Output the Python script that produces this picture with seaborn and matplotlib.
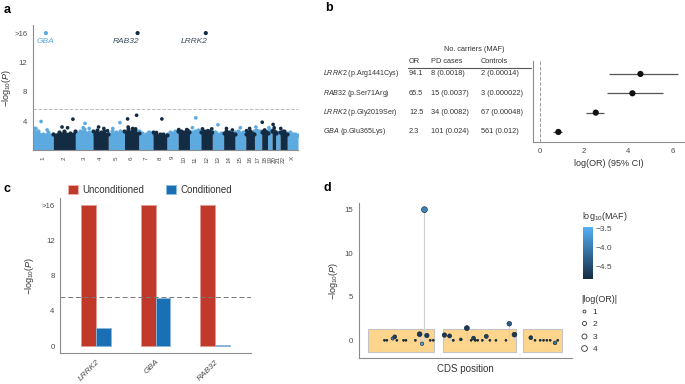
import numpy as np
import pandas as pd
import seaborn as sns
import matplotlib.pyplot as plt
import matplotlib.transforms as mtransforms
from matplotlib.colors import LinearSegmentedColormap, Normalize
from matplotlib.cm import ScalarMappable
from matplotlib.lines import Line2D
from matplotlib.patches import Patch, Rectangle

# ---------------- data ----------------
# a: gene-based Manhattan plot
chrom_labels = [str(i) for i in range(1, 23)] + ['X']
chrom_size = [20.2, 22.2, 17.6, 15.4, 16.2, 14.3, 14.2, 14.0, 11.2, 11.4, 11.4, 11.5,
              11.3, 11.4, 10.7, 8.8, 7.2, 5.9, 4.5, 3.6, 4.4, 7.2, 10.8]
# upper edge of the dense cloud of genes, per chromosome
chrom_envelope = [
    [3.0, 2.6, 2.3, 2.5, 2.2], [2.3, 2.5, 2.6, 2.4, 2.6], [2.5, 2.7, 2.9, 2.5, 2.3],
    [2.6, 2.8, 2.5, 2.6, 2.3], [2.4, 2.6, 2.5, 2.7, 2.4], [2.7, 2.9, 2.6, 2.8, 2.4],
    [2.6, 2.4, 2.3, 2.5, 2.2], [2.5, 2.3, 2.2, 2.3, 2.1], [2.3, 2.5, 2.4, 2.6, 2.5],
    [2.6, 2.7, 2.5, 2.8, 2.5], [2.7, 2.5, 2.6, 2.8, 2.6], [2.5, 2.6, 2.4, 2.7, 2.5],
    [2.3, 2.5, 2.2, 2.4, 2.3], [2.4, 2.6, 2.5, 2.4, 2.3], [2.5, 2.6, 2.4, 2.5, 2.4],
    [2.3, 2.5, 2.6, 2.4, 2.3], [2.6, 2.8, 2.7, 2.6, 2.5], [2.5, 2.7, 2.6, 2.5, 2.4],
    [2.7, 2.6, 2.8, 2.6, 2.5], [2.6, 2.8, 2.7, 2.5, 2.4], [2.4, 2.5, 2.3, 2.4, 2.3],
    [2.5, 2.4, 2.6, 2.3, 2.2], [2.4, 2.5, 2.3, 2.2, 2.1]]
# genes above the cloud: chromosome index, relative position, -log10(P)
top_chrom = [0, 0, 0, 1, 1, 1, 2, 2, 2, 3, 3, 3, 4, 4, 5, 5, 5, 5, 5, 6, 7, 7, 9, 9,
             10, 10, 11, 11, 11, 12, 12, 13, 13, 14, 15, 15, 16, 17, 17, 18, 19, 19, 21, 21]
top_rel = [0.40, 0.15, 0.70, 0.40, 0.65, 0.89, 0.55, 0.45, 0.79, 0.37, 0.71, 0.95, 0.72, 0.28,
           0.22, 0.85, 0.26, 0.57, 0.78, 0.71, 0.64, 0.26, 0.06, 0.76, 0.55, 0.26, 0.14, 0.95,
           0.60, 0.50, 0.30, 0.25, 0.77, 0.50, 0.10, 0.45, 0.20, 0.10, 0.50, 0.30, 0.30, 0.60,
           0.10, 0.40]
top_p = [3.95, 3.0, 2.8, 3.2, 3.1, 4.27, 3.7, 3.1, 3.0, 3.2, 3.0, 2.7, 3.8, 3.0,
         4.3, 4.8, 3.2, 3.0, 2.95, 2.45, 4.3, 2.45, 2.85, 2.85, 4.45, 3.1, 2.95, 2.95,
         2.7, 3.5, 2.45, 3.0, 2.8, 3.1, 2.7, 3.0, 3.2, 3.85, 2.8, 3.1, 3.55, 3.1, 3.0, 2.6]
hit_genes = ['GBA', 'RAB32', 'LRRK2']
hit_chrom = [0, 5, 11]
hit_rel = [0.64, 0.92, 0.43]
hit_p = [16, 16, 16]
threshold = 5.6

# b: variant table and forest plot
variant_gene = ['LRRK2', 'RAB32', 'LRRK2', 'GBA']
variant_protein = ['p.Arg1441Cys', 'p.Ser71Arg', 'p.Gly2019Ser', 'p.Glu365Lys']
or_vals = [94.1, 65.5, 12.5, 2.3]
pd_cases = ['8 (0.0018)', '15 (0.0037)', '34 (0.0082)', '101 (0.024)']
controls = ['2 (0.00014)', '3 (0.000022)', '67 (0.00048)', '561 (0.012)']
ci_lo = [3.12, 3.05, 2.07, 0.60]
ci_hi = [6.23, 5.55, 2.91, 1.01]

# c: conditional analysis
cond_genes = ['LRRK2', 'GBA', 'RAB32']
p_uncond = [16, 16, 16]
p_cond = [2.05, 5.5, 0.1]

# d: RAB32 variants along the CDS
exon_start = [30, 277, 543]
exon_end = [250, 518, 672]
cds_pos = [85, 93, 112, 119, 126, 148, 156, 187, 201, 209, 217, 225, 236, 246,
           283, 300, 312, 337, 357, 371, 379, 385, 393, 408, 421, 433, 453, 486, 497, 514,
           568, 582, 599, 610, 621, 632, 648, 657]
var_p = [0, 0, 0.2, 0.4, 0, 0, 0, 0, 0.7, -0.4, 15.0, 0.55, 0, 0,
         0.6, 0.5, 0, 0.1, 1.4, 0, 0.25, 0, 0, 0, 0.45, 0, 0, 0, 1.9, 0.65,
         0.3, 0, 0, 0, 0, 0, -0.3, 0]
var_maf = [-4.8, -4.8, -3.9, -4.6, -4.8, -4.8, -4.8, -4.8, -4.7, -3.6, -3.95, -4.7, -4.8, -4.8,
           -4.7, -4.7, -4.8, -4.7, -4.7, -4.8, -4.6, -4.8, -4.8, -4.8, -4.6, -4.8, -4.8, -4.8,
           -4.3, -4.7, -4.7, -4.8, -4.8, -4.8, -4.8, -4.8, -4.1, -4.8]
var_or = [0.5, 0.5, 1.2, 1.8, 0.5, 0.5, 0.5, 0.5, 2.8, 1.5, 4.2, 2.3, 0.5, 0.5,
          2.4, 2.0, 0.6, 1.0, 3.0, 0.5, 1.8, 0.6, 0.5, 0.5, 2.0, 0.5, 0.5, 0.5, 2.6, 2.8,
          1.8, 0.5, 0.5, 0.5, 0.5, 0.5, 1.6, 0.5]

# ---------------- style ----------------
sns.set_theme(style='white')
plt.rcParams['font.family'] = ['Liberation Sans', 'DejaVu Sans']
plt.rcParams.update({
    'mathtext.fontset': 'custom', 'mathtext.rm': 'Liberation Sans',
    'mathtext.it': 'Liberation Sans:italic', 'mathtext.bf': 'Liberation Sans:bold',
    'font.size': 5.6, 'axes.edgecolor': '#8c8c8c', 'axes.linewidth': 0.8,
    'xtick.color': '#8c8c8c', 'ytick.color': '#8c8c8c',
    'xtick.labelcolor': '#4a4a4a', 'ytick.labelcolor': '#4a4a4a',
    'xtick.labelsize': 5.6, 'ytick.labelsize': 5.6, 'axes.labelsize': 6.5,
    'axes.labelcolor': '#333333', 'text.color': '#333333',
})
LIGHT, DARK = '#5DAAE1', '#132B43'
W, H = 685, 384
fig = plt.figure(figsize=(W / 100, H / 100), dpi=100)


def box(l, t, r, b):
    return [l / W, 1 - b / H, (r - l) / W, (b - t) / H]


def style_axes(ax):
    sns.despine(ax=ax)
    ax.tick_params(length=2.5, width=0.6, pad=1.5)


ylab = '−log$_{10}$($P$)'

# ---------------- a ----------------
ax_a = fig.add_axes(box(33, 25, 298, 150.5))
starts = np.concatenate([[0], np.cumsum(chrom_size)[:-1]])
for i, (s0, w, env) in enumerate(zip(starts, chrom_size, chrom_envelope)):
    col = LIGHT if i % 2 == 0 else DARK
    xs = s0 + np.linspace(0, 1, len(env)) * w
    ax_a.fill_between(xs, 0, env, color=col, lw=0, zorder=1 + i % 2)
    ax_a.scatter(xs, env, s=9, color=col, lw=0, zorder=1 + i % 2)
top_x = [starts[c] + r * chrom_size[c] for c, r in zip(top_chrom, top_rel)]
top_col = [LIGHT if c % 2 == 0 else DARK for c in top_chrom]
ax_a.scatter(top_x, top_p, s=7, c=top_col, lw=0, zorder=3)
hit_x = [starts[c] + r * chrom_size[c] for c, r in zip(hit_chrom, hit_rel)]
hit_col = [LIGHT if c % 2 == 0 else DARK for c in hit_chrom]
ax_a.scatter(hit_x, hit_p, s=9, c=hit_col, lw=0, zorder=3)
for g, x, y, c in zip(hit_genes, hit_x, hit_p, hit_col):
    tc = LIGHT if c == LIGHT else '#3b4a5e'
    ha = 'center' if g == 'GBA' else 'right'
    ax_a.text(x + (0 if ha == 'center' else 1.5), y - 1.2, g, style='italic', color=tc,
              ha=ha, va='center', fontsize=6)
ax_a.axhline(threshold, color='#bdbdbd', ls='--', lw=0.7, zorder=0)
ax_a.set_xlim(0, sum(chrom_size))
ax_a.set_ylim(0, 17.1)
ax_a.set_yticks([4, 8, 12, 16], ['4', '8', '12', '>16'])
ax_a.set_xticks(starts + np.array(chrom_size) / 2, chrom_labels, rotation=90, fontsize=4.5)
ax_a.set_ylabel(ylab)
ax_a.yaxis.set_label_coords(-0.077, 0.5)
style_axes(ax_a)

# ---------------- b ----------------
ax_b = fig.add_axes(box(533.3, 61, 685, 142))
rows = np.arange(len(or_vals), 0, -1)
ax_b.hlines(rows, ci_lo, ci_hi, color='#555555', lw=0.9)
sns.scatterplot(x=np.log(or_vals), y=rows, ax=ax_b, color='#111111', s=20,
                edgecolor='none', zorder=3)
ax_b.axvline(0, color='#9a9a9a', ls='--', lw=0.7)
ax_b.set_xlim(-0.3, 6.56)
ax_b.set_ylim(0.48, 4.67)
ax_b.set_yticks([])
ax_b.set_xticks([0, 2, 4, 6])
ax_b.set_xlabel('log(OR) (95% CI)', labelpad=3)
style_axes(ax_b)

trans = mtransforms.blended_transform_factory(fig.transFigure, ax_b.transData)
col_x = {'name': 323, 'or': 409, 'pd': 430.7, 'ctrl': 480.7}
tfs = 5.3
for r, g, prot, o, pc, ct in zip(rows, variant_gene, variant_protein, or_vals, pd_cases, controls):
    ax_b.text(col_x['name'] / W, r, f'$\\it{{{g}}}$ ({prot})', transform=trans,
              va='center', ha='left', fontsize=5.1)
    ax_b.text(col_x['or'] / W, r, f'{o}', transform=trans, va='center', fontsize=tfs)
    ax_b.text(col_x['pd'] / W, r, pc, transform=trans, va='center', fontsize=tfs)
    ax_b.text(col_x['ctrl'] / W, r, ct, transform=trans, va='center', fontsize=tfs)
for key, lab in [('or', 'OR'), ('pd', 'PD cases'), ('ctrl', 'Controls')]:
    ax_b.text(col_x[key] / W, 4.62, lab, transform=trans, va='center', fontsize=tfs)
ax_b.text(474 / W, 5.24, 'No. carriers (MAF)', transform=trans, va='center', ha='center',
          fontsize=tfs)
ax_b.plot([408 / W, 531 / W], [4.3, 4.3], transform=trans, color='#555555', lw=0.8,
          clip_on=False)

# ---------------- c ----------------
ax_c = fig.add_axes(box(60.3, 198.3, 250.7, 352.7))
df_c = pd.DataFrame({
    'gene': cond_genes * 2,
    'value': p_uncond + p_cond,
    'analysis': ['Unconditioned'] * 3 + ['Conditioned'] * 3,
})
pal_c = {'Unconditioned': '#C0392B', 'Conditioned': '#1A6FB5'}
sns.barplot(data=df_c, x='gene', y='value', hue='analysis', palette=pal_c, width=0.5,
            ax=ax_c, legend=False, saturation=1)
for p in ax_c.patches:
    fc = np.array(p.get_facecolor()[:3])
    p.set_edgecolor(tuple(fc + (1 - fc) * 0.5))
    p.set_linewidth(0.6)
ax_c.axhline(threshold, color='#777777', ls=(0, (5, 3)), lw=0.7)
ax_c.set_xlim(-0.6, 2.6)
ax_c.set_ylim(-0.75, 16.8)
ax_c.set_yticks([0, 4, 8, 12, 16], ['0', '4', '8', '12', '>16'])
ax_c.set_xticks(range(3))
ax_c.set_xticklabels(cond_genes, rotation=45, ha='right', rotation_mode='anchor',
                     style='italic', fontsize=6)
ax_c.set_xlabel('')
ax_c.set_ylabel(ylab)
ax_c.yaxis.set_label_coords(-0.128, 0.5)
style_axes(ax_c)
handles = [Patch(facecolor=pal_c[k], edgecolor='#f0b0a8' if k == 'Unconditioned' else '#8cc0e8',
                 lw=0.6, label=k) for k in pal_c]
fig.legend(handles=handles, loc='center left', bbox_to_anchor=(68 / W, 1 - 189.7 / H),
           ncol=2, frameon=False, fontsize=7, handlelength=1.0, handleheight=1.0,
           handletextpad=0.5, columnspacing=2.2, borderpad=0, borderaxespad=0)

# ---------------- d ----------------
ax_d = fig.add_axes(box(358.7, 202.7, 571.7, 358.3))
for s0, e0 in zip(exon_start, exon_end):
    ax_d.add_patch(Rectangle((s0, -1.3), e0 - s0, 2.6, facecolor='#FDD58C',
                             edgecolor='#c4c4c4', lw=0.8, zorder=1))
ax_d.vlines(cds_pos, 0, var_p, color='#d0d0d0', lw=0.8, zorder=2)
cmap = LinearSegmentedColormap.from_list('gg', [DARK, '#56B1F7'])
norm = Normalize(-4.85, -3.46)
df_d = pd.DataFrame({'pos': cds_pos, 'p': var_p, 'maf': var_maf, 'lor': var_or})
sns.scatterplot(data=df_d, x='pos', y='p', hue='maf', size='lor', palette=cmap,
                hue_norm=norm, sizes=(0, 18), size_norm=(0, 4.2), legend=False,
                edgecolor='#0b1a2a', linewidth=0.4, ax=ax_d, zorder=3)
ax_d.set_xlim(0, 703)
ax_d.set_ylim(-2.07, 15.8)
ax_d.set_xticks([])
ax_d.set_yticks([0, 5, 10, 15])
ax_d.set_xlabel('CDS position', fontsize=7, labelpad=4)
ax_d.set_ylabel(ylab)
ax_d.yaxis.set_label_coords(-0.09, 0.5)
style_axes(ax_d)

cax = fig.add_axes(box(582.7, 226.7, 592.7, 279.3))
cb = fig.colorbar(ScalarMappable(norm=norm, cmap=cmap), cax=cax, ticks=[-3.5, -4.0, -4.5])
cb.outline.set_visible(False)
cb.set_ticklabels(['−3.5', '−4.0', '−4.5'])
cax.tick_params(axis='y', direction='in', length=2, width=0.6, color='white',
                left=True, right=True, labelsize=6, pad=2)
fig.text(581.7 / W, 1 - 216.7 / H, 'log$_{10}$(MAF)', fontsize=6.5, va='center')
fig.text(581.7 / W, 1 - 299.3 / H, '|log(OR)|', fontsize=6.5, va='center')
size_handles = [Line2D([], [], ls='', marker='o', markersize=np.sqrt(v * 4.3),
                       markerfacecolor='white', markeredgecolor='#333333',
                       markeredgewidth=0.6, label=str(v)) for v in [1, 2, 3, 4]]
fig.legend(handles=size_handles, loc='upper left', bbox_to_anchor=(579 / W, 1 - 308 / H),
           frameon=False, fontsize=6, handlelength=1.2, handletextpad=0.4,
           labelspacing=0.55, borderpad=0, borderaxespad=0)

# panel letters
for lab, x, y in [('a', 4, 10), ('b', 325, 8), ('c', 3, 189), ('d', 323, 188)]:
    fig.text(x / W, 1 - y / H, lab, fontsize=9, weight='bold', va='center', color='black')

fig.savefig('out.png', dpi=100)
